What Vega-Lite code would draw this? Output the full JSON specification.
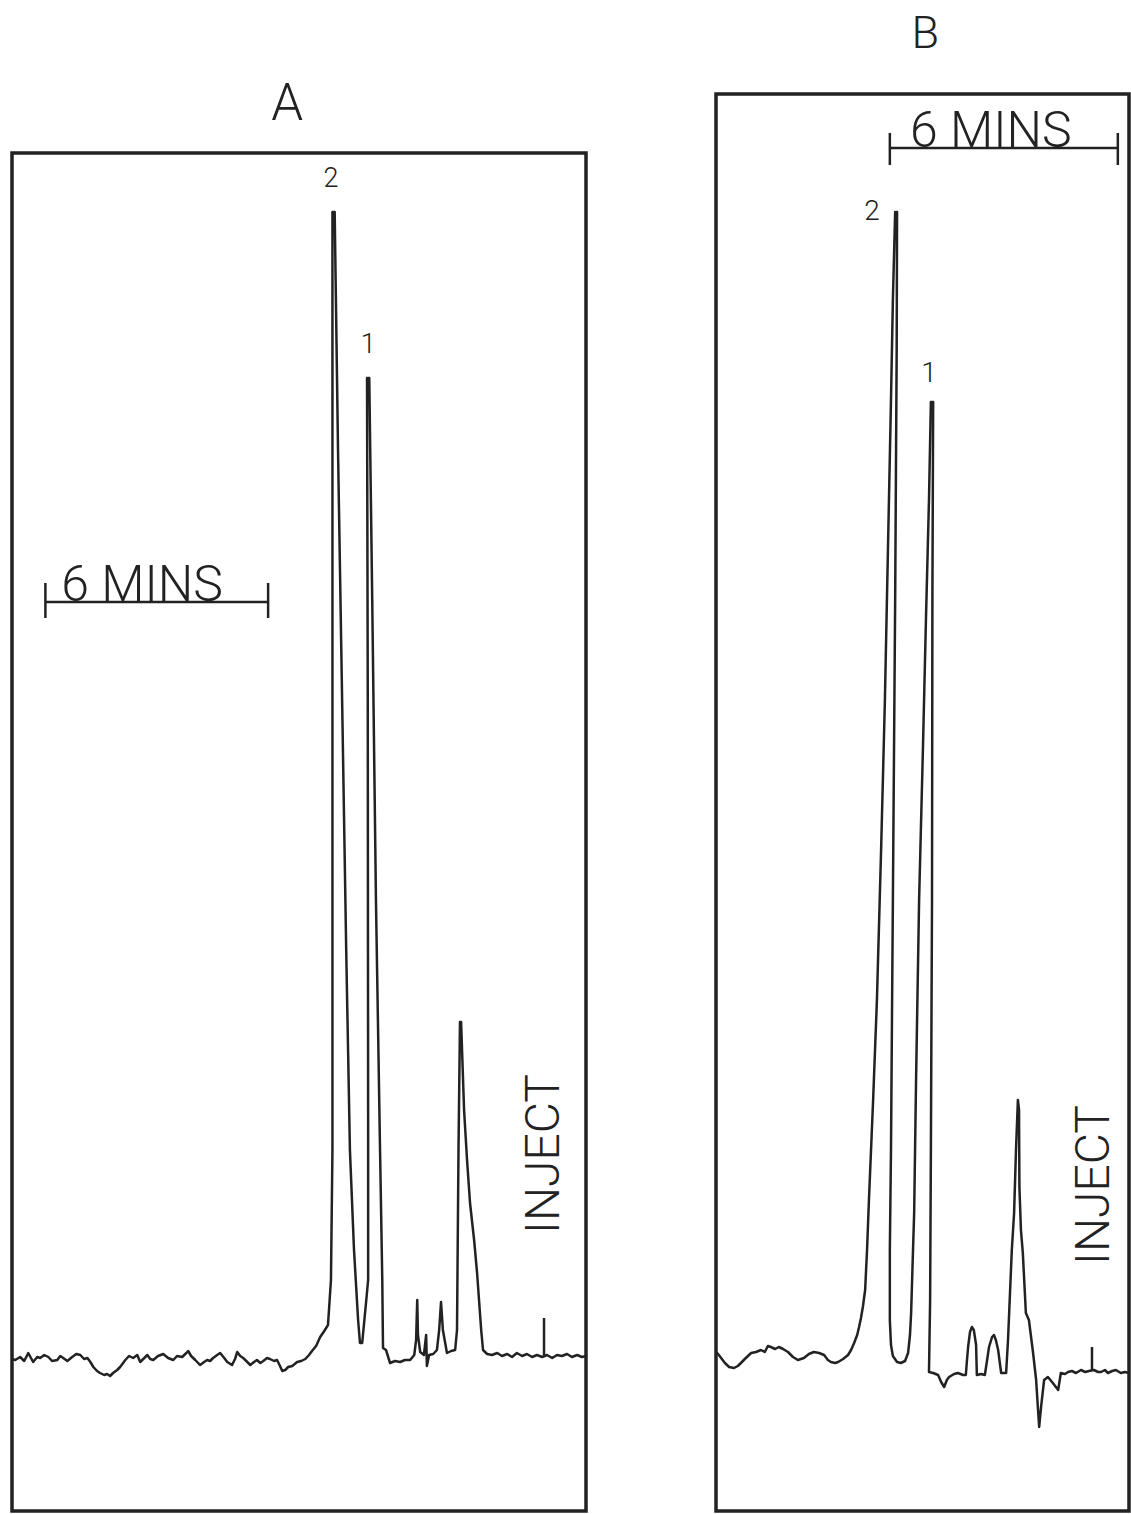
{
  "$schema": "https://vega.github.io/schema/vega-lite/v6.json",
  "background": "white",
  "padding": {"left": 10, "top": 0, "right": 0, "bottom": 0},
  "spacing": 126,
  "config": {
    "view": {"stroke": null},
    "axis": {"disable": true},
    "text": {"font": "Roboto", "fontWeight": 300, "color": "#222"}
  },
  "hconcat": [
    {
      "width": 574,
      "height": 1511,
      "layer": [
        {
          "data": {"values": [
            {"time_min": 14.30, "response": -0.2}, {"time_min": 14.22, "response": -0.3}, {"time_min": 14.09, "response": 0}, {"time_min": 13.98, "response": -0.4},
            {"time_min": 13.87, "response": 0.4}, {"time_min": 13.74, "response": -0.5}, {"time_min": 13.63, "response": 0}, {"time_min": 13.55, "response": -0.1},
            {"time_min": 13.44, "response": 0.2}, {"time_min": 13.33, "response": 0}, {"time_min": 13.23, "response": -0.4}, {"time_min": 13.09, "response": -0.3},
            {"time_min": 13.01, "response": 0.1}, {"time_min": 12.93, "response": -0.1}, {"time_min": 12.82, "response": -0.4}, {"time_min": 12.69, "response": 0},
            {"time_min": 12.58, "response": 0.3}, {"time_min": 12.47, "response": 0.2}, {"time_min": 12.37, "response": -0.2}, {"time_min": 12.28, "response": -0.1},
            {"time_min": 12.20, "response": -0.5}, {"time_min": 12.12, "response": -1.0}, {"time_min": 12.02, "response": -1.4}, {"time_min": 11.94, "response": -1.6},
            {"time_min": 11.83, "response": -1.8}, {"time_min": 11.75, "response": -1.7}, {"time_min": 11.67, "response": -1.9}, {"time_min": 11.59, "response": -1.6},
            {"time_min": 11.48, "response": -1.3}, {"time_min": 11.40, "response": -1.0}, {"time_min": 11.26, "response": -0.3}, {"time_min": 11.16, "response": 0.1},
            {"time_min": 11.05, "response": -0.1}, {"time_min": 10.94, "response": 0.2}, {"time_min": 10.86, "response": -0.5}, {"time_min": 10.75, "response": -0.1},
            {"time_min": 10.67, "response": 0.2}, {"time_min": 10.59, "response": -0.2}, {"time_min": 10.51, "response": -0.3}, {"time_min": 10.38, "response": 0.1},
            {"time_min": 10.24, "response": 0.3}, {"time_min": 10.11, "response": -0.1}, {"time_min": 9.97, "response": -0.3}, {"time_min": 9.87, "response": 0.1},
            {"time_min": 9.73, "response": 0}, {"time_min": 9.62, "response": 0.4}, {"time_min": 9.57, "response": 0.6}, {"time_min": 9.49, "response": 0.1},
            {"time_min": 9.38, "response": -0.3}, {"time_min": 9.25, "response": -0.8}, {"time_min": 9.14, "response": -0.5}, {"time_min": 9.06, "response": -0.3},
            {"time_min": 8.98, "response": -0.4}, {"time_min": 8.90, "response": -0.1}, {"time_min": 8.79, "response": 0.2}, {"time_min": 8.71, "response": 0.4},
            {"time_min": 8.60, "response": -0.1}, {"time_min": 8.52, "response": -0.5}, {"time_min": 8.39, "response": -0.8}, {"time_min": 8.31, "response": -0.2},
            {"time_min": 8.25, "response": 0.5}, {"time_min": 8.17, "response": 0.1}, {"time_min": 8.09, "response": -0.1}, {"time_min": 7.98, "response": -0.5},
            {"time_min": 7.90, "response": -0.8}, {"time_min": 7.80, "response": -0.5}, {"time_min": 7.72, "response": -0.3}, {"time_min": 7.63, "response": -0.6},
            {"time_min": 7.55, "response": -0.4}, {"time_min": 7.45, "response": -0.1}, {"time_min": 7.37, "response": -0.2}, {"time_min": 7.26, "response": -0.4},
            {"time_min": 7.18, "response": -0.3}, {"time_min": 7.10, "response": -0.9}, {"time_min": 7.04, "response": -1.4}, {"time_min": 6.96, "response": -1.3},
            {"time_min": 6.88, "response": -1.0}, {"time_min": 6.77, "response": -0.9}, {"time_min": 6.64, "response": -0.5}, {"time_min": 6.53, "response": -0.4},
            {"time_min": 6.42, "response": -0.2}, {"time_min": 6.32, "response": 0.2}, {"time_min": 6.24, "response": 0.6}, {"time_min": 6.13, "response": 1.1},
            {"time_min": 6.02, "response": 2.0}, {"time_min": 5.91, "response": 2.6}, {"time_min": 5.81, "response": 3.2}, {"time_min": 5.73, "response": 7.7},
            {"time_min": 5.69, "response": 20.7}, {"time_min": 5.69, "response": 65.7}, {"time_min": 5.69, "response": 114.5}, {"time_min": 5.63, "response": 114.5},
            {"time_min": 5.54, "response": 90.7}, {"time_min": 5.43, "response": 65.7}, {"time_min": 5.32, "response": 40.7}, {"time_min": 5.22, "response": 20.7},
            {"time_min": 5.11, "response": 10.7}, {"time_min": 5.00, "response": 3.7}, {"time_min": 4.95, "response": 1.4}, {"time_min": 4.89, "response": 1.4},
            {"time_min": 4.78, "response": 5.7}, {"time_min": 4.73, "response": 7.7}, {"time_min": 4.73, "response": 20.7}, {"time_min": 4.74, "response": 65.7},
            {"time_min": 4.76, "response": 97.9}, {"time_min": 4.70, "response": 97.9}, {"time_min": 4.62, "response": 75.7}, {"time_min": 4.52, "response": 45.7},
            {"time_min": 4.41, "response": 20.7}, {"time_min": 4.35, "response": 7.7}, {"time_min": 4.33, "response": 0.9}, {"time_min": 4.25, "response": 0.7},
            {"time_min": 4.14, "response": -0.6}, {"time_min": 4.01, "response": -0.4}, {"time_min": 3.87, "response": -0.5}, {"time_min": 3.74, "response": -0.3},
            {"time_min": 3.60, "response": -0.3}, {"time_min": 3.49, "response": 0.2}, {"time_min": 3.44, "response": 1.7}, {"time_min": 3.41, "response": 5.7},
            {"time_min": 3.39, "response": 2.2}, {"time_min": 3.33, "response": 0.5}, {"time_min": 3.23, "response": 0.2}, {"time_min": 3.17, "response": 2.2},
            {"time_min": 3.15, "response": -0.9}, {"time_min": 3.09, "response": 0.2}, {"time_min": 2.98, "response": 0.3}, {"time_min": 2.88, "response": 0.7},
            {"time_min": 2.82, "response": 2.7}, {"time_min": 2.77, "response": 5.5}, {"time_min": 2.72, "response": 2.7}, {"time_min": 2.61, "response": 0.4},
            {"time_min": 2.50, "response": 0.6}, {"time_min": 2.39, "response": 0.7}, {"time_min": 2.34, "response": 2.7}, {"time_min": 2.30, "response": 20.7},
            {"time_min": 2.26, "response": 33.5}, {"time_min": 2.23, "response": 33.5}, {"time_min": 2.15, "response": 24.7}, {"time_min": 2.07, "response": 19.7},
            {"time_min": 1.99, "response": 15.4}, {"time_min": 1.88, "response": 11.7}, {"time_min": 1.80, "response": 8.4}, {"time_min": 1.69, "response": 2.7},
            {"time_min": 1.64, "response": 0.7}, {"time_min": 1.53, "response": 0.3}, {"time_min": 1.40, "response": 0.2}, {"time_min": 1.26, "response": 0.4},
            {"time_min": 1.13, "response": 0.1}, {"time_min": 0.99, "response": 0.3}, {"time_min": 0.86, "response": 0}, {"time_min": 0.73, "response": 0.4},
            {"time_min": 0.59, "response": 0.1}, {"time_min": 0.46, "response": 0.3}, {"time_min": 0.32, "response": 0}, {"time_min": 0.19, "response": 0.2},
            {"time_min": 0.05, "response": 0}, {"time_min": -0.08, "response": 0.2}, {"time_min": -0.22, "response": -0.1}, {"time_min": -0.35, "response": 0.2},
            {"time_min": -0.48, "response": 0.1}, {"time_min": -0.62, "response": 0.3}, {"time_min": -0.75, "response": 0}, {"time_min": -0.89, "response": 0.2},
            {"time_min": -1.02, "response": 0}, {"time_min": -1.13, "response": 0.1}
          ]},
          "mark": {"type": "line", "color": "#222", "strokeWidth": 2.5, "strokeJoin": "round"},
          "encoding": {
            "x": {"field": "time_min", "type": "quantitative", "scale": {"domain": [-1.129, 14.308], "reverse": true, "nice": false, "zero": false}},
            "y": {"field": "response", "type": "quantitative", "scale": {"domain": [-15.4, 135.7], "nice": false, "zero": false}},
            "order": {"value": null}
          }
        },
        {
          "data": {"values": [{"t_start": -1.129, "t_end": 14.308, "r_bottom": -15.4, "r_top": 120.4}]},
          "mark": {"type": "rect", "filled": false, "color": "#222", "strokeWidth": 3.5},
          "encoding": {
            "x": {"field": "t_start", "type": "quantitative"},
            "x2": {"field": "t_end"},
            "y": {"field": "r_bottom", "type": "quantitative"},
            "y2": {"field": "r_top"}
          }
        },
        {
          "data": {"values": [{"start": 13.41, "end": 7.42, "level": 75.5}]},
          "mark": {"type": "rule", "color": "#222", "strokeWidth": 2.5},
          "encoding": {
            "x": {"field": "start", "type": "quantitative"},
            "x2": {"field": "end"},
            "y": {"field": "level", "type": "quantitative"}
          }
        },
        {
          "data": {"values": [
            {"time_min": 13.41, "low": 73.9, "high": 77.4},
            {"time_min": 7.42, "low": 73.9, "high": 77.4},
            {"time_min": 0, "low": 0.2, "high": 3.9}
          ]},
          "mark": {"type": "rule", "color": "#222", "strokeWidth": 2.5},
          "encoding": {
            "x": {"field": "time_min", "type": "quantitative"},
            "y": {"field": "low", "type": "quantitative"},
            "y2": {"field": "high"}
          }
        },
        {
          "data": {"values": [{"time_min": 10.81, "response": 75.6, "label": "6 MINS"}]},
          "mark": {"type": "text", "fontSize": 50, "align": "center", "baseline": "alphabetic"},
          "encoding": {
            "x": {"field": "time_min", "type": "quantitative"},
            "y": {"field": "response", "type": "quantitative"},
            "text": {"field": "label"}
          }
        },
        {
          "data": {"values": [{"time_min": 6.91, "response": 123.7, "label": "A"}]},
          "mark": {"type": "text", "fontSize": 51, "align": "center", "baseline": "alphabetic"},
          "encoding": {
            "x": {"field": "time_min", "type": "quantitative"},
            "y": {"field": "response", "type": "quantitative"},
            "text": {"field": "label"}
          }
        },
        {
          "data": {"values": [
            {"time_min": 5.73, "response": 117.0, "label": "2"},
            {"time_min": 4.73, "response": 100.4, "label": "1"}
          ]},
          "mark": {"type": "text", "fontSize": 27, "align": "center", "baseline": "alphabetic"},
          "encoding": {
            "x": {"field": "time_min", "type": "quantitative"},
            "y": {"field": "response", "type": "quantitative"},
            "text": {"field": "label"}
          }
        },
        {
          "data": {"values": [{"time_min": -0.03, "response": 20.3, "label": "INJECT"}]},
          "mark": {"type": "text", "fontSize": 48, "align": "center", "baseline": "middle", "angle": 270},
          "encoding": {
            "x": {"field": "time_min", "type": "quantitative"},
            "y": {"field": "response", "type": "quantitative"},
            "text": {"field": "label"}
          }
        }
      ]
    },
    {
      "width": 413,
      "height": 1511,
      "layer": [
        {
          "data": {"values": [
            {"time_min": 9.89, "response": 0.5}, {"time_min": 9.82, "response": 0.2}, {"time_min": 9.76, "response": -0.1}, {"time_min": 9.66, "response": -0.6},
            {"time_min": 9.55, "response": -1.0}, {"time_min": 9.42, "response": -1.1}, {"time_min": 9.32, "response": -0.9}, {"time_min": 9.24, "response": -0.6},
            {"time_min": 9.11, "response": -0.1}, {"time_min": 8.97, "response": 0.4}, {"time_min": 8.84, "response": 0.5}, {"time_min": 8.71, "response": 0.7},
            {"time_min": 8.61, "response": 0.5}, {"time_min": 8.53, "response": 1.1}, {"time_min": 8.45, "response": 1.0}, {"time_min": 8.34, "response": 0.8},
            {"time_min": 8.24, "response": 1.0}, {"time_min": 8.13, "response": 0.8}, {"time_min": 8.00, "response": 0.5}, {"time_min": 7.87, "response": 0},
            {"time_min": 7.74, "response": -0.3}, {"time_min": 7.66, "response": -0.2}, {"time_min": 7.58, "response": -0.1}, {"time_min": 7.45, "response": 0.3},
            {"time_min": 7.32, "response": 0.5}, {"time_min": 7.18, "response": 0.4}, {"time_min": 7.05, "response": 0.2}, {"time_min": 6.95, "response": -0.3},
            {"time_min": 6.87, "response": -0.5}, {"time_min": 6.76, "response": -0.6}, {"time_min": 6.68, "response": -0.5}, {"time_min": 6.55, "response": -0.2},
            {"time_min": 6.42, "response": 0.2}, {"time_min": 6.34, "response": 0.7}, {"time_min": 6.26, "response": 1.4}, {"time_min": 6.18, "response": 2.2},
            {"time_min": 6.13, "response": 3.0}, {"time_min": 6.08, "response": 3.9}, {"time_min": 6.03, "response": 5.0}, {"time_min": 5.97, "response": 6.7},
            {"time_min": 5.92, "response": 10.7}, {"time_min": 5.87, "response": 15.7}, {"time_min": 5.76, "response": 25.7}, {"time_min": 5.66, "response": 35.7},
            {"time_min": 5.55, "response": 50.7}, {"time_min": 5.45, "response": 65.7}, {"time_min": 5.37, "response": 80.7}, {"time_min": 5.29, "response": 95.7},
            {"time_min": 5.24, "response": 105.7}, {"time_min": 5.18, "response": 114.5}, {"time_min": 5.13, "response": 114.5}, {"time_min": 5.14, "response": 100.7},
            {"time_min": 5.18, "response": 75.7}, {"time_min": 5.24, "response": 45.7}, {"time_min": 5.29, "response": 20.7}, {"time_min": 5.32, "response": 10.7},
            {"time_min": 5.32, "response": 3.7}, {"time_min": 5.29, "response": 1.2}, {"time_min": 5.24, "response": 0.1}, {"time_min": 5.13, "response": -0.5},
            {"time_min": 5.03, "response": -0.6}, {"time_min": 4.92, "response": -0.4}, {"time_min": 4.84, "response": 0.4}, {"time_min": 4.79, "response": 2.2},
            {"time_min": 4.76, "response": 4.4}, {"time_min": 4.71, "response": 10.7}, {"time_min": 4.68, "response": 14.4}, {"time_min": 4.63, "response": 27.7},
            {"time_min": 4.55, "response": 45.7}, {"time_min": 4.45, "response": 60.7}, {"time_min": 4.37, "response": 73.7}, {"time_min": 4.29, "response": 85.7},
            {"time_min": 4.24, "response": 95.5}, {"time_min": 4.18, "response": 95.5}, {"time_min": 4.20, "response": 75.7}, {"time_min": 4.21, "response": 45.7},
            {"time_min": 4.24, "response": 20.7}, {"time_min": 4.26, "response": 5.7}, {"time_min": 4.29, "response": -1.5}, {"time_min": 4.18, "response": -1.6},
            {"time_min": 4.05, "response": -1.8}, {"time_min": 3.97, "response": -2.5}, {"time_min": 3.89, "response": -3.0}, {"time_min": 3.82, "response": -2.3},
            {"time_min": 3.76, "response": -2.0}, {"time_min": 3.63, "response": -1.7}, {"time_min": 3.53, "response": -1.6}, {"time_min": 3.39, "response": -1.8},
            {"time_min": 3.32, "response": -1.8}, {"time_min": 3.29, "response": -0.3}, {"time_min": 3.26, "response": 1.0}, {"time_min": 3.21, "response": 2.5},
            {"time_min": 3.16, "response": 3.0}, {"time_min": 3.11, "response": 2.7}, {"time_min": 3.05, "response": 1.2}, {"time_min": 3.03, "response": -1.8},
            {"time_min": 2.92, "response": -1.7}, {"time_min": 2.82, "response": -1.8}, {"time_min": 2.76, "response": -0.3}, {"time_min": 2.71, "response": 1.0},
            {"time_min": 2.63, "response": 2.0}, {"time_min": 2.58, "response": 2.2}, {"time_min": 2.53, "response": 1.7}, {"time_min": 2.47, "response": 0.7},
            {"time_min": 2.39, "response": -1.6}, {"time_min": 2.26, "response": -1.6}, {"time_min": 2.21, "response": 1.7}, {"time_min": 2.18, "response": 4.4},
            {"time_min": 2.11, "response": 10.7}, {"time_min": 2.05, "response": 14.4}, {"time_min": 2.00, "response": 20.7}, {"time_min": 1.95, "response": 25.7},
            {"time_min": 1.92, "response": 24.7}, {"time_min": 1.91, "response": 17.0}, {"time_min": 1.87, "response": 12.7}, {"time_min": 1.82, "response": 10.4},
            {"time_min": 1.74, "response": 4.4}, {"time_min": 1.66, "response": 3.7}, {"time_min": 1.61, "response": 2.2}, {"time_min": 1.55, "response": 0.4},
            {"time_min": 1.47, "response": -2.3}, {"time_min": 1.42, "response": -5.3}, {"time_min": 1.39, "response": -7.0}, {"time_min": 1.34, "response": -5.0},
            {"time_min": 1.26, "response": -2.3}, {"time_min": 1.16, "response": -2.0}, {"time_min": 1.03, "response": -2.6}, {"time_min": 0.89, "response": -3.3},
            {"time_min": 0.82, "response": -1.6}, {"time_min": 0.71, "response": -1.7}, {"time_min": 0.63, "response": -1.5}, {"time_min": 0.53, "response": -1.4},
            {"time_min": 0.42, "response": -1.6}, {"time_min": 0.29, "response": -1.3}, {"time_min": 0.18, "response": -1.5}, {"time_min": 0.08, "response": -1.4},
            {"time_min": -0.05, "response": -1.3}, {"time_min": -0.16, "response": -1.5}, {"time_min": -0.24, "response": -1.5}, {"time_min": -0.34, "response": -1.3},
            {"time_min": -0.42, "response": -1.6}, {"time_min": -0.53, "response": -1.4}, {"time_min": -0.63, "response": -1.3}, {"time_min": -0.76, "response": -1.6},
            {"time_min": -0.87, "response": -1.5}, {"time_min": -0.97, "response": -1.6}
          ]},
          "mark": {"type": "line", "color": "#222", "strokeWidth": 2.5, "strokeJoin": "round"},
          "encoding": {
            "x": {"field": "time_min", "type": "quantitative", "scale": {"domain": [-0.974, 9.895], "reverse": true, "nice": false, "zero": false}},
            "y": {"field": "response", "type": "quantitative", "scale": {"domain": [-15.4, 135.7], "nice": false, "zero": false}},
            "order": {"value": null}
          }
        },
        {
          "data": {"values": [{"t_start": -0.974, "t_end": 9.895, "r_bottom": -15.4, "r_top": 126.3}]},
          "mark": {"type": "rect", "filled": false, "color": "#222", "strokeWidth": 3.5},
          "encoding": {
            "x": {"field": "t_start", "type": "quantitative"},
            "x2": {"field": "t_end"},
            "y": {"field": "r_bottom", "type": "quantitative"},
            "y2": {"field": "r_top"}
          }
        },
        {
          "data": {"values": [{"start": 5.32, "end": -0.68, "level": 120.9}]},
          "mark": {"type": "rule", "color": "#222", "strokeWidth": 2.5},
          "encoding": {
            "x": {"field": "start", "type": "quantitative"},
            "x2": {"field": "end"},
            "y": {"field": "level", "type": "quantitative"}
          }
        },
        {
          "data": {"values": [
            {"time_min": 5.32, "low": 119.2, "high": 122.4},
            {"time_min": -0.68, "low": 119.2, "high": 122.4},
            {"time_min": 0, "low": -1.3, "high": 1.0}
          ]},
          "mark": {"type": "rule", "color": "#222", "strokeWidth": 2.5},
          "encoding": {
            "x": {"field": "time_min", "type": "quantitative"},
            "y": {"field": "low", "type": "quantitative"},
            "y2": {"field": "high"}
          }
        },
        {
          "data": {"values": [{"time_min": 2.66, "response": 121.0, "label": "6 MINS"}]},
          "mark": {"type": "text", "fontSize": 50, "align": "center", "baseline": "alphabetic"},
          "encoding": {
            "x": {"field": "time_min", "type": "quantitative"},
            "y": {"field": "response", "type": "quantitative"},
            "text": {"field": "label"}
          }
        },
        {
          "data": {"values": [{"time_min": 4.39, "response": 130.9, "label": "B"}]},
          "mark": {"type": "text", "fontSize": 45, "align": "center", "baseline": "alphabetic"},
          "encoding": {
            "x": {"field": "time_min", "type": "quantitative"},
            "y": {"field": "response", "type": "quantitative"},
            "text": {"field": "label"}
          }
        },
        {
          "data": {"values": [
            {"time_min": 5.79, "response": 113.7, "label": "2"},
            {"time_min": 4.29, "response": 97.5, "label": "1"}
          ]},
          "mark": {"type": "text", "fontSize": 28, "align": "center", "baseline": "alphabetic"},
          "encoding": {
            "x": {"field": "time_min", "type": "quantitative"},
            "y": {"field": "response", "type": "quantitative"},
            "text": {"field": "label"}
          }
        },
        {
          "data": {"values": [{"time_min": -0.08, "response": 17.2, "label": "INJECT"}]},
          "mark": {"type": "text", "fontSize": 48, "align": "center", "baseline": "middle", "angle": 270},
          "encoding": {
            "x": {"field": "time_min", "type": "quantitative"},
            "y": {"field": "response", "type": "quantitative"},
            "text": {"field": "label"}
          }
        }
      ]
    }
  ]
}
